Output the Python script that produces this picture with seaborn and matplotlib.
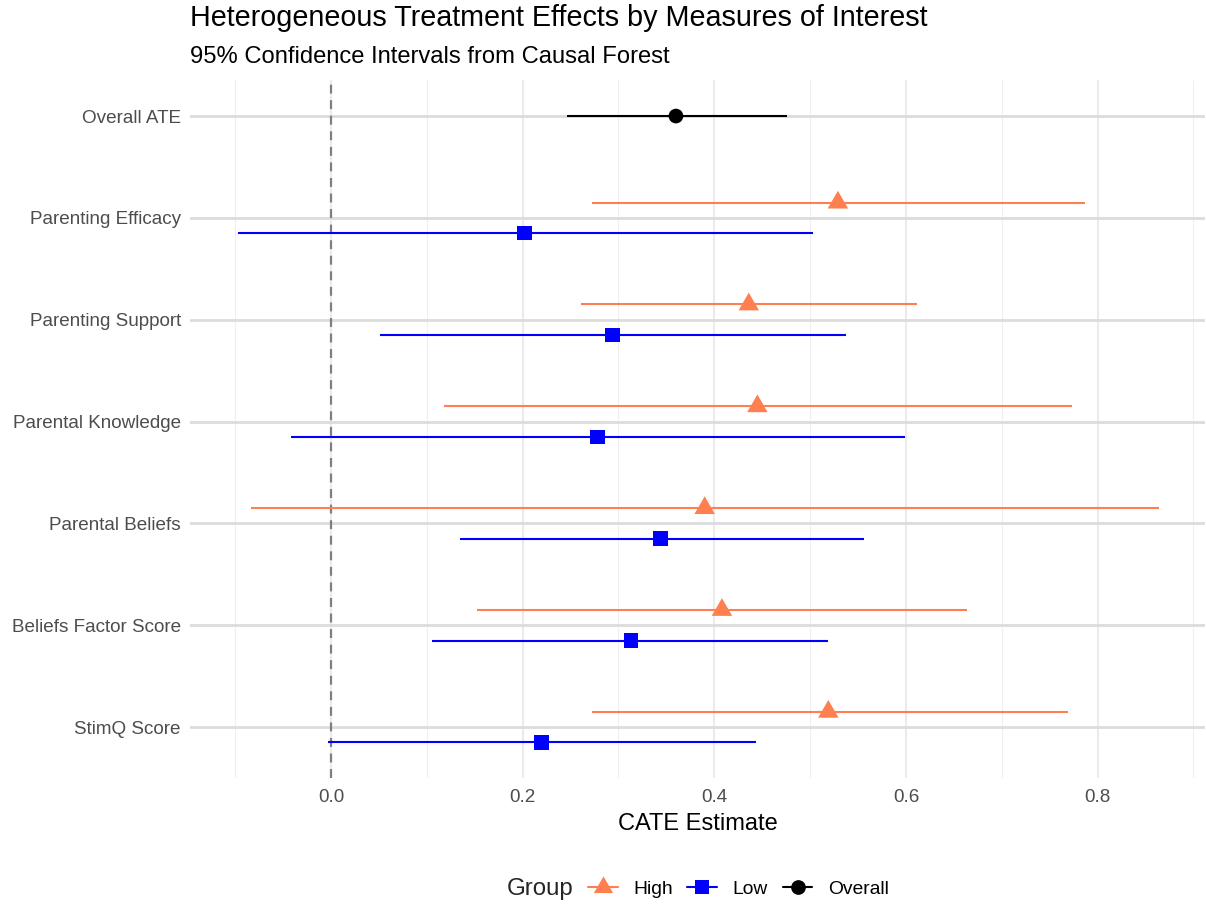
import numpy as np
import pandas as pd
import seaborn as sns
import matplotlib
matplotlib.use("Agg")
from matplotlib import pyplot as plt
from matplotlib.lines import Line2D

measures = ["Overall ATE", "Parenting Efficacy", "Parenting Support",
            "Parental Knowledge", "Parental Beliefs", "Beliefs Factor Score",
            "StimQ Score"]
groups = ["High", "Low", "Overall"]

row_measure = ["Overall ATE",
               "Parenting Efficacy", "Parenting Efficacy",
               "Parenting Support", "Parenting Support",
               "Parental Knowledge", "Parental Knowledge",
               "Parental Beliefs", "Parental Beliefs",
               "Beliefs Factor Score", "Beliefs Factor Score",
               "StimQ Score", "StimQ Score"]
row_group = ["Overall"] + ["High", "Low"] * 6
estimate = [0.360, 0.529, 0.202, 0.436, 0.294, 0.445, 0.278,
            0.390, 0.344, 0.408, 0.313, 0.519, 0.220]
lower = [0.246, 0.272, -0.097, 0.261, 0.051, 0.118, -0.042,
         -0.083, 0.135, 0.152, 0.106, 0.272, -0.003]
upper = [0.476, 0.787, 0.503, 0.611, 0.537, 0.773, 0.599,
         0.864, 0.556, 0.664, 0.519, 0.769, 0.444]

colors = {"High": "#FF7F50", "Low": "#0000FF", "Overall": "#000000"}
dodge = {"High": -0.15, "Low": 0.15, "Overall": 0.0}

df = pd.DataFrame({"measure": row_measure, "group": row_group,
                   "estimate": estimate, "lower": lower, "upper": upper})
df["ypos"] = [measures.index(m) + dodge[g] for m, g in zip(df.measure, df.group)]

sns.set_theme(style="white")
plt.rcParams["font.family"] = ["Liberation Sans", "DejaVu Sans"]

fig = plt.figure(figsize=(12.06, 9.05), dpi=100)
ax = fig.add_axes([190 / 1206, 1 - 778 / 905, 1015 / 1206, 698 / 905])

# grid
for x in np.arange(-0.1, 0.95, 0.2):
    ax.axvline(x, color="#EFEFEF", lw=0.8, zorder=0)
for x in np.arange(0.0, 0.85, 0.2):
    ax.axvline(x, color="#EBEBEB", lw=1.5, zorder=0)
for i in range(len(measures)):
    ax.axhline(i, color="#DCDCDC", lw=2.0, zorder=0)
ax.axvline(0, color="#7F7F7F", lw=1.6, ls=(0, (4, 3)), zorder=1)

# confidence intervals
for _, r in df.iterrows():
    ax.plot([r.lower, r.upper], [r.ypos, r.ypos], color=colors[r.group],
            lw=1.5, zorder=2, solid_capstyle="butt")

tri = [(-1, -0.577), (1, -0.577), (0, 1.155)]
markers = {"High": tri, "Low": "s", "Overall": "o"}
sns.scatterplot(data=df, x="estimate", y="ypos", hue="group", style="group",
                size="group", sizes={"High": 290, "Low": 110, "Overall": 112},
                markers=markers, palette=colors, linewidth=0, legend=False,
                ax=ax, zorder=3)

ax.set_xlim(-0.147, 0.912)
ax.set_ylim(6.5, -0.354)
ax.set_xticks([0.0, 0.2, 0.4, 0.6, 0.8])
ax.set_xticklabels(["0.0", "0.2", "0.4", "0.6", "0.8"])
ax.set_yticks(range(len(measures)))
ax.set_yticklabels(measures)
ax.tick_params(axis="both", length=0, labelsize=13.6, colors="#4D4D4D")
ax.tick_params(axis="x", pad=8)
ax.tick_params(axis="y", pad=6.5)
ax.set_xlabel("CATE Estimate", fontsize=17, color="black", labelpad=5)
ax.set_ylabel("")
for s in ax.spines.values():
    s.set_visible(False)

fig.text(190 / 1206, 1 - 26 / 905, "Heterogeneous Treatment Effects by Measures of Interest",
         fontsize=20.7, color="black", va="baseline", ha="left")
fig.text(190 / 1206, 1 - 63 / 905, "95% Confidence Intervals from Causal Forest",
         fontsize=17.1, color="black", va="baseline", ha="left")

# legend
handles = [Line2D([0], [0], color=colors[g], lw=1.5, marker=markers[g],
                  markersize={"High": 16, "Low": 10.5, "Overall": 10.6}[g],
                  markeredgewidth=0) for g in groups]
fig.text(507 / 1206, 1 - 889 / 905, "Group", fontsize=17.3, va="center", ha="left")
fig.legend(handles, groups, loc="center left", bbox_to_anchor=(588 / 1206, 1 - 889 / 905),
           ncol=3, frameon=False, fontsize=13.9, handlelength=1.55,
           handletextpad=0.8, columnspacing=0.75, borderaxespad=0, borderpad=0,
           labelcolor="black")

fig.savefig("out.png", dpi=100)
